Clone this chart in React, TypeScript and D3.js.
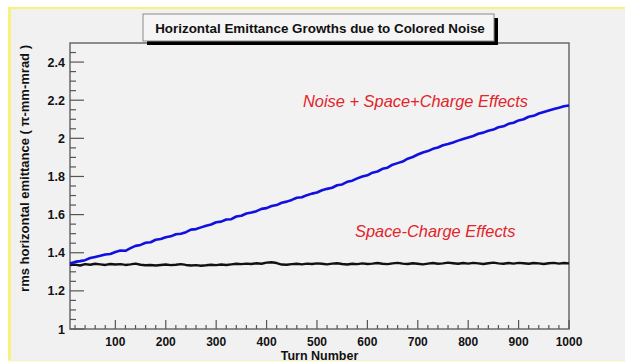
import React from "react";
import * as d3 from "d3";

const turns: number[] = d3.range(10, 1001, 10);

const noiseSpaceCharge: number[] = [
  1.342, 1.352, 1.356, 1.361, 1.372, 1.378, 1.384, 1.391, 1.393, 1.404,
  1.412, 1.410, 1.424, 1.436, 1.441, 1.452, 1.455, 1.468, 1.472, 1.481,
  1.486, 1.497, 1.500, 1.508, 1.521, 1.524, 1.533, 1.542, 1.548, 1.560,
  1.563, 1.574, 1.576, 1.590, 1.594, 1.606, 1.611, 1.618, 1.630, 1.634,
  1.645, 1.650, 1.662, 1.668, 1.677, 1.688, 1.691, 1.702, 1.710, 1.716,
  1.728, 1.735, 1.741, 1.754, 1.758, 1.772, 1.778, 1.790, 1.800, 1.806,
  1.820, 1.826, 1.840, 1.846, 1.862, 1.870, 1.878, 1.893, 1.902, 1.915,
  1.926, 1.933, 1.945, 1.952, 1.964, 1.970, 1.978, 1.988, 1.996, 2.004,
  2.012, 2.024, 2.030, 2.040, 2.046, 2.058, 2.063, 2.076, 2.082, 2.094,
  2.100, 2.113, 2.118, 2.130, 2.138, 2.146, 2.154, 2.160, 2.168, 2.172,
];

const spaceCharge: number[] = [
  1.335, 1.338, 1.333, 1.340, 1.337, 1.342, 1.339, 1.336, 1.341, 1.338,
  1.340, 1.336, 1.339, 1.343, 1.337, 1.334, 1.336, 1.333, 1.336, 1.338,
  1.335, 1.337, 1.340, 1.336, 1.333, 1.335, 1.332, 1.334, 1.337, 1.335,
  1.338, 1.336, 1.339, 1.342, 1.340, 1.343, 1.341, 1.345, 1.342, 1.348,
  1.350, 1.346, 1.338, 1.337, 1.340, 1.342, 1.339, 1.343, 1.341, 1.344,
  1.342, 1.339, 1.343, 1.345, 1.341, 1.338, 1.342, 1.340, 1.344, 1.341,
  1.343, 1.346, 1.342, 1.340, 1.344, 1.347, 1.343, 1.341, 1.345, 1.342,
  1.339, 1.343, 1.346, 1.342, 1.344, 1.348, 1.345, 1.342, 1.346, 1.343,
  1.347, 1.344, 1.341, 1.345, 1.348, 1.344, 1.342, 1.346, 1.343, 1.347,
  1.345, 1.342, 1.346, 1.344, 1.341, 1.345, 1.347, 1.343, 1.346, 1.344,
];

const xTickValues: number[] = [100, 200, 300, 400, 500, 600, 700, 800, 900, 1000];
const xTickLabels: string[] = ["100", "200", "300", "400", "500", "600", "700", "800", "900", "1000"];
const yTickValues: number[] = [1, 1.2, 1.4, 1.6, 1.8, 2, 2.2, 2.4];
const yTickLabels: string[] = ["1", "1.2", "1.4", "1.6", "1.8", "2", "2.2", "2.4"];

const title = "Horizontal Emittance Growths due to Colored Noise";
const xTitle = "Turn Number";
const yTitle = "rms horizontal emittance ( \u03c0-mm-mrad )";
const label1 = "Noise + Space+Charge Effects";
const label2 = "Space-Charge Effects";

const FONT = "'Liberation Sans', Arial, Helvetica, sans-serif";

export default function App() {
  const W = 625;
  const H = 363;
  const left = 70, right = 569, top = 43, bottom = 329;

  const x = d3.scaleLinear().domain([10, 1000]).range([left, right]);
  const y = d3.scaleLinear().domain([1, 2.5]).range([bottom, top]);

  const line = d3
    .line<number>()
    .x((_, i) => x(turns[i]))
    .y((d) => y(d));

  const xMinor = d3.range(20, 1000, 20).filter((v) => v % 100 !== 0);
  const yMinor = d3.range(1.05, 2.5, 0.05).filter((v) => Math.abs(v * 5 - Math.round(v * 5)) > 1e-6);

  return (
    <div style={{ position: "fixed", left: 0, top: 0 }}>
      <svg width={W} height={H} style={{ display: "block" }}>
        <rect x={0} y={0} width={W} height={H} fill="#ffffff" />
        <rect x={8} y={7} width={W - 8} height={354} fill="#f1f1f1" />
        <rect x={8} y={7} width={W - 8} height={2} fill="#f6f27c" />
        <rect x={8} y={7} width={3} height={354} fill="#f6f27c" />
        <rect x={8} y={360} width={W - 8} height={1.5} fill="#f7f4c8" />

        {/* plot frame */}
        <rect x={left} y={top} width={right - left} height={bottom - top} fill="#f2f2f2" stroke="#6a6a6a" strokeWidth={1.5} />

        {/* y ticks */}
        {yTickValues.map((v) => (
          <line key={"ym" + v} x1={left} x2={left + 14} y1={y(v)} y2={y(v)} stroke="#555" strokeWidth={1.2} />
        ))}
        {yMinor.map((v) => (
          <line key={"yn" + v} x1={left} x2={left + 6} y1={y(v)} y2={y(v)} stroke="#555" strokeWidth={1.2} />
        ))}
        {yTickValues.map((v, i) => (
          <text key={"yl" + v} x={left - 5} y={y(v) + 4.5} textAnchor="end" fontFamily={FONT} fontWeight="bold" fontSize={12.5} fill="#111">
            {yTickLabels[i]}
          </text>
        ))}

        {/* x ticks */}
        {xTickValues.map((v) => (
          <line key={"xm" + v} x1={x(v)} x2={x(v)} y1={bottom} y2={bottom - 9} stroke="#555" strokeWidth={1.2} />
        ))}
        {xMinor.map((v) => (
          <line key={"xn" + v} x1={x(v)} x2={x(v)} y1={bottom} y2={bottom - 4} stroke="#555" strokeWidth={1.2} />
        ))}
        {xTickValues.map((v, i) => (
          <text key={"xl" + v} x={x(v)} y={346} textAnchor="middle" fontFamily={FONT} fontWeight="bold" fontSize={12} fill="#111">
            {xTickLabels[i]}
          </text>
        ))}

        {/* data lines */}
        <path d={line(spaceCharge) || ""} fill="none" stroke="#111111" strokeWidth={2.4} strokeLinejoin="round" />
        <path d={line(noiseSpaceCharge) || ""} fill="none" stroke="#1010e0" strokeWidth={2.6} strokeLinejoin="round" />

        {/* annotations */}
        <text x={303} y={107} fontFamily={FONT} fontStyle="italic" fontSize={16.4} fill="#e3242b">
          {label1}
        </text>
        <text x={355} y={237} fontFamily={FONT} fontStyle="italic" fontSize={16.4} fill="#e3242b">
          {label2}
        </text>

        {/* axis titles */}
        <text x={319.5} y={360} textAnchor="middle" fontFamily={FONT} fontWeight="bold" fontSize={12.5} fill="#111">
          {xTitle}
        </text>
        <text
          transform={`translate(29, 45) rotate(-90)`}
          textAnchor="end"
          fontFamily={FONT}
          fontWeight="bold"
          fontSize={13}
          fill="#111"
        >
          {yTitle}
        </text>

        {/* title box */}
        <rect x={147} y={18} width={351} height={27} fill="#000" />
        <rect x={143} y={14} width={351} height={27} fill="#f5f5f5" stroke="#8a8a8a" strokeWidth={1} />
        <text x={320} y={32.5} textAnchor="middle" fontFamily={FONT} fontWeight="bold" fontSize={13.4} fill="#111">
          {title}
        </text>
      </svg>
    </div>
  );
}
